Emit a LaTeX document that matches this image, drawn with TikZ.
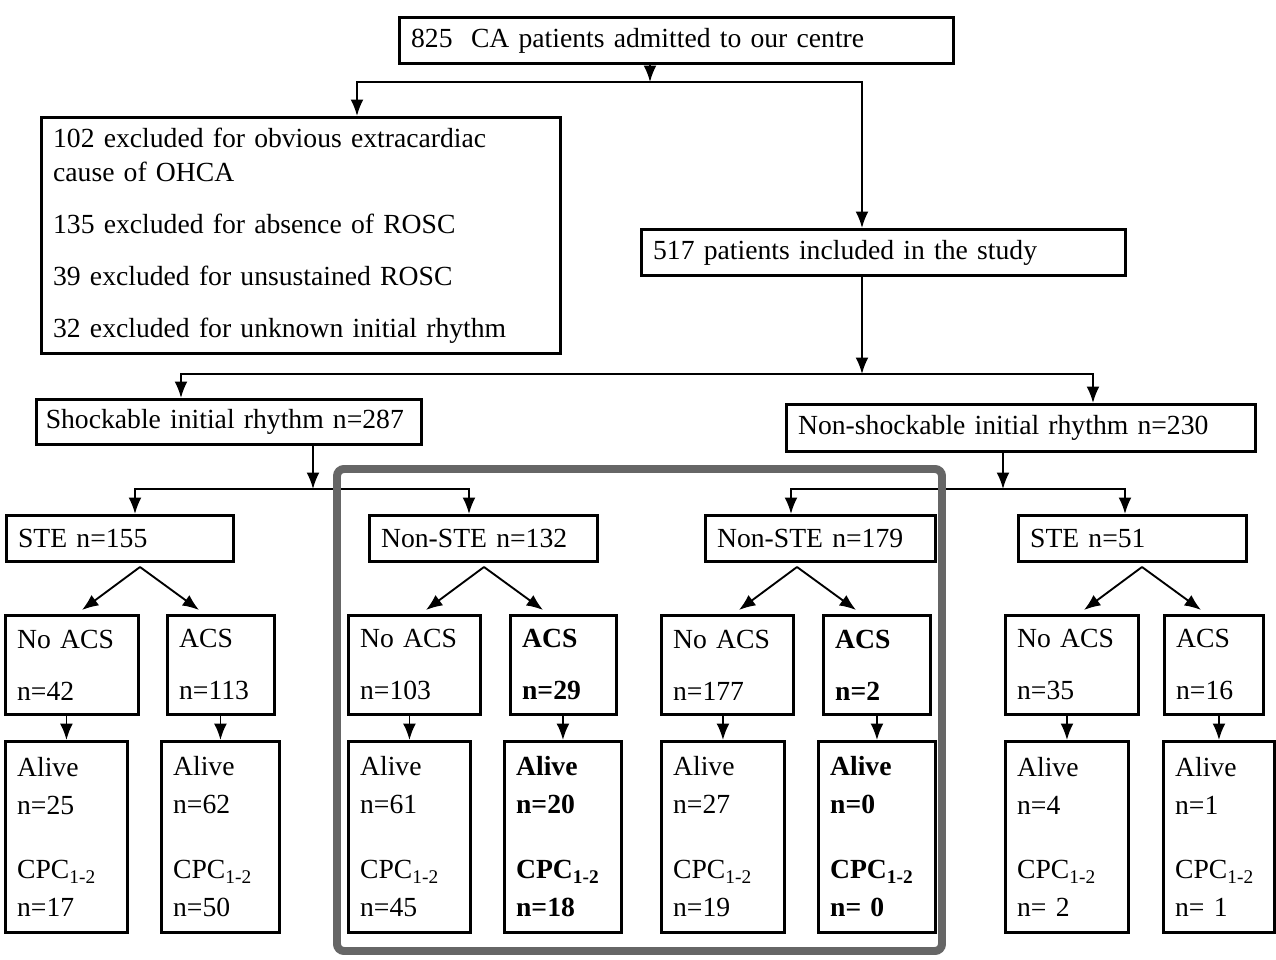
\documentclass[tikz,border=0pt]{standalone}
\usepackage{fontspec}
\setmainfont{Liberation Serif}
\usetikzlibrary{arrows.meta}

\begin{document}
\begin{tikzpicture}[x=0.015cm, y=-0.015cm,
  font=\fontsize{11.8}{14.5}\selectfont, >={Latex[length=7pt,width=5.5pt]},
  box/.style={draw, line width=1.2pt, anchor=north west, align=left, inner xsep=5pt, inner ysep=0pt},
  strong/.style={font=\fontsize{11.8}{14.5}\selectfont\bfseries},
  flow/.style={->, line width=0.8pt},
  hl/.style={draw=black!60, line width=3.4pt, rounded corners=3pt},
]
\useasboundingbox (0,0) rectangle (1276,960);

% screening
\node[box, text width=7.96cm, minimum height=0.69cm] (top) at (398,16) {825~ CA patients admitted to our centre};
\node[box, text width=7.43cm, minimum height=3.54cm] (excl) at (40,116) {102 excluded for obvious extracardiac\\cause of OHCA\\[0.27cm]135 excluded for absence of ROSC\\[0.27cm]39 excluded for unsustained ROSC\\[0.27cm]32 excluded for unknown initial rhythm};
\node[box, text width=6.91cm, minimum height=0.69cm] (incl) at (640,228) {517 patients included in the study};

% initial rhythm
\node[box, inner xsep=4pt, text width=5.5cm, minimum height=0.675cm] (shock) at (35,398) {Shockable initial rhythm n=287};
\node[box, text width=6.68cm, minimum height=0.705cm] (nshock) at (785,403) {Non-shockable initial rhythm n=230};

% ECG
\node[box, text width=3.05cm, minimum height=0.69cm] (ste1) at (5,514) {STE n=155};
\node[box, text width=3.07cm, minimum height=0.69cm] (nste1) at (368,514) {Non-STE n=132};
\node[box, text width=3.10cm, minimum height=0.69cm] (nste2) at (704,514) {Non-STE n=179};
\node[box, text width=3.07cm, minimum height=0.69cm] (ste2) at (1017,514) {STE n=51};

% coronary angiography
\node[box, text width=1.645cm, minimum height=1.485cm] (noacs1) at (4,614) {No ACS\\[0.27cm]n=42};
\node[box, text width=1.25cm, minimum height=1.485cm] (acs1) at (166,614) {ACS\\[0.27cm]n=113};
\node[box, text width=1.63cm, minimum height=1.485cm] (noacs2) at (347,614) {No ACS\\[0.27cm]n=103};
\node[box, strong, text width=1.24cm, minimum height=1.485cm] (acs2) at (509,614) {ACS\\[0.27cm]n=29};
\node[box, text width=1.63cm, minimum height=1.485cm] (noacs3) at (660,614) {No ACS\\[0.27cm]n=177};
\node[box, strong, text width=1.25cm, minimum height=1.485cm] (acs3) at (822,614) {ACS\\[0.27cm]n=2};
\node[box, text width=1.645cm, minimum height=1.485cm] (noacs4) at (1004,614) {No ACS\\[0.27cm]n=35};
\node[box, text width=1.13cm, minimum height=1.485cm] (acs4) at (1163,614) {ACS\\[0.27cm]n=16};

% outcome
\node[box, text width=1.48cm, minimum height=2.865cm] (alive1) at (4,740) {Alive\\[0.06cm]n=25\\[0.465cm]CPC\textsubscript{1-2}\\[0.06cm]n=17};
\node[box, text width=1.42cm, minimum height=2.865cm] (alive2) at (160,740) {Alive\\[0.06cm]n=62\\[0.465cm]CPC\textsubscript{1-2}\\[0.06cm]n=50};
\node[box, text width=1.48cm, minimum height=2.865cm] (alive3) at (347,740) {Alive\\[0.06cm]n=61\\[0.465cm]CPC\textsubscript{1-2}\\[0.06cm]n=45};
\node[box, strong, text width=1.405cm, minimum height=2.865cm] (alive4) at (503,740) {Alive\\[0.06cm]n=20\\[0.465cm]CPC\textsubscript{1-2}\\[0.06cm]n=18};
\node[box, text width=1.495cm, minimum height=2.865cm] (alive5) at (660,740) {Alive\\[0.06cm]n=27\\[0.465cm]CPC\textsubscript{1-2}\\[0.06cm]n=19};
\node[box, strong, text width=1.405cm, minimum height=2.865cm] (alive6) at (817,740) {Alive\\[0.06cm]n=0\\[0.465cm]CPC\textsubscript{1-2}\\[0.06cm]n= 0};
\node[box, text width=1.495cm, minimum height=2.865cm] (alive7) at (1004,740) {Alive\\[0.06cm]n=4\\[0.465cm]CPC\textsubscript{1-2}\\[0.06cm]n= 2};
\node[box, text width=1.315cm, minimum height=2.865cm] (alive8) at (1162,740) {Alive\\[0.06cm]n=1\\[0.465cm]CPC\textsubscript{1-2}\\[0.06cm]n= 1};

% branch points
\coordinate (s0) at (650,82);
\coordinate (b1) at (357,82);
\coordinate (b2) at (862,82);
\coordinate (s1) at (862,374);
\coordinate (b3) at (181,374);
\coordinate (b4) at (1093,374);
\coordinate (s2) at (313,489);
\coordinate (b5) at (135,489);
\coordinate (b6) at (469,489);
\coordinate (s3) at (1003,489);
\coordinate (b7) at (791,489);
\coordinate (b8) at (1125,489);

\draw[flow] (top.south -| s0) -- (s0);
\draw[flow] (s0) -| (b1 |- excl.north);
\draw[flow] (s0) -| (b2 |- incl.north);
\draw[flow] (incl.south -| s1) -- (s1);
\draw[flow] (s1) -| (b3 |- shock.north);
\draw[flow] (s1) -| (b4 |- nshock.north);
\draw[flow] (shock.south -| s2) -- (s2);
\draw[flow] (s2) -| (b5 |- ste1.north);
\draw[flow] (s2) -| (b6 |- nste1.north);
\draw[flow] (nshock.south -| s3) -- (s3);
\draw[flow] (s3) -| (b7 |- nste2.north);
\draw[flow] (s3) -| (b8 |- ste2.north);

% split into ACS / no ACS
\foreach \x/\n in {140/ste1, 484/nste1, 797/nste2, 1142/ste2} {
  \coordinate (\n-v) at (\x,567);
  \draw[flow] (\n-v) -- ++(-58,43);
  \draw[flow] (\n-v) -- ++(59,43);
}
\foreach \a/\b in {noacs1/alive1, acs1/alive2, noacs2/alive3, acs2/alive4, noacs3/alive5, acs3/alive6, noacs4/alive7, acs4/alive8}
  \draw[flow] (\a.south -| \b.north) -- (\b.north);

% highlighted group
\draw[hl] (337,469) rectangle (942,951);
\end{tikzpicture}
\end{document}
